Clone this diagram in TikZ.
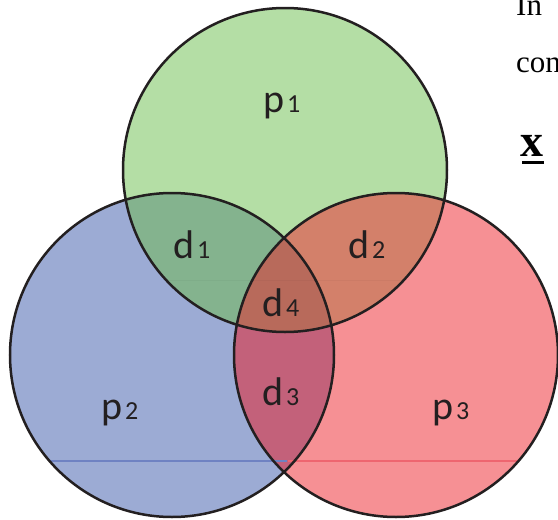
\documentclass[tikz,border=0pt]{standalone}
\usepackage{fontspec}
\newfontfamily\labfont{Carlito}
\newfontfamily\serfont{Liberation Serif}
\definecolor{cG}{HTML}{B4DEA5}
\definecolor{cB}{HTML}{9CABD4}
\definecolor{cR}{HTML}{F69094}
\definecolor{cDa}{HTML}{84B38E}
\definecolor{cDb}{HTML}{D3806A}
\definecolor{cDc}{HTML}{C3617A}
\definecolor{cDd}{HTML}{B86A5B}
\definecolor{cLineB}{HTML}{6F82C2}
\definecolor{cLineR}{HTML}{EE6670}
\definecolor{cInk}{HTML}{231F20}
\newcommand\lsub[1]{\kern3pt{\fontsize{26}{26}\selectfont #1}}
\tikzset{
  outline/.style={draw=cInk, line width=2.5pt},
  lab/.style={anchor=base west, inner sep=0pt, text=cInk, font=\labfont\fontsize{40}{40}\selectfont},
  sertext/.style={anchor=base west, inner sep=0pt, text=black, font=\serfont\fontsize{31}{31}\selectfont},
}
\begin{document}
\begin{tikzpicture}[x=1pt,y=-1pt]
\useasboundingbox (0,0) rectangle (558,520);
\clip (0,0) rectangle (558,520);
\fill[white] (0,0) rectangle (558,520);
\coordinate (G) at (285,170);
\coordinate (B) at (172,355);
\coordinate (R) at (396,355);
\def\rad{162}
% base discs
\fill[cG] (G) circle[radius=\rad];
\fill[cB] (B) circle[radius=\rad];
\fill[cR] (R) circle[radius=\rad];
% pairwise overlaps
\begin{scope}
  \clip (G) circle[radius=\rad];
  \fill[cDa] (B) circle[radius=\rad];
  \fill[cDb] (R) circle[radius=\rad];
\end{scope}
\begin{scope}
  \clip (B) circle[radius=\rad];
  \fill[cDc] (R) circle[radius=\rad];
  \clip (G) circle[radius=\rad];
  \fill[cDd] (R) circle[radius=\rad];
\end{scope}
% faint horizontal scan lines
\begin{scope}
  \clip (B) circle[radius=\rad];
  \draw[cLineB, line width=1.2pt] (0,461) -- (287,461);
\end{scope}
\begin{scope}
  \clip (R) circle[radius=\rad];
  \draw[cLineR, line width=1.2pt] (288,461) -- (558,461);
\end{scope}
\begin{scope}
  \clip (G) circle[radius=\rad];
  \draw[black, opacity=0.03, line width=1pt] (0,280) -- (558,280);
\end{scope}
% outlines
\draw[outline] (G) circle[radius=\rad];
\draw[outline] (B) circle[radius=\rad];
\draw[outline] (R) circle[radius=\rad];
% labels
\node[lab] (p1) at (263,112) {p\lsub{1}};
\node[lab] (d1) at (173,258) {d\lsub{1}};
\node[lab] (d2) at (348,258) {d\lsub{2}};
\node[lab] (d4) at (262,316) {d\lsub{4}};
\node[lab] (d3) at (262,405) {d\lsub{3}};
\node[lab] (p2) at (101,419) {p\lsub{2}};
\node[lab] (p3) at (432,419) {p\lsub{3}};
% cropped page text at the right
\node[sertext] (t1) at (516,15) {In};
\node[sertext] (t2) at (516,72) {con};
\node[anchor=base west, inner sep=0pt, text=black, font=\serfont\bfseries\fontsize{46}{46}\selectfont] (t3) at (520,156) {x};
\fill[black] (522,161) rectangle (544,164);
\end{tikzpicture}
\end{document}
